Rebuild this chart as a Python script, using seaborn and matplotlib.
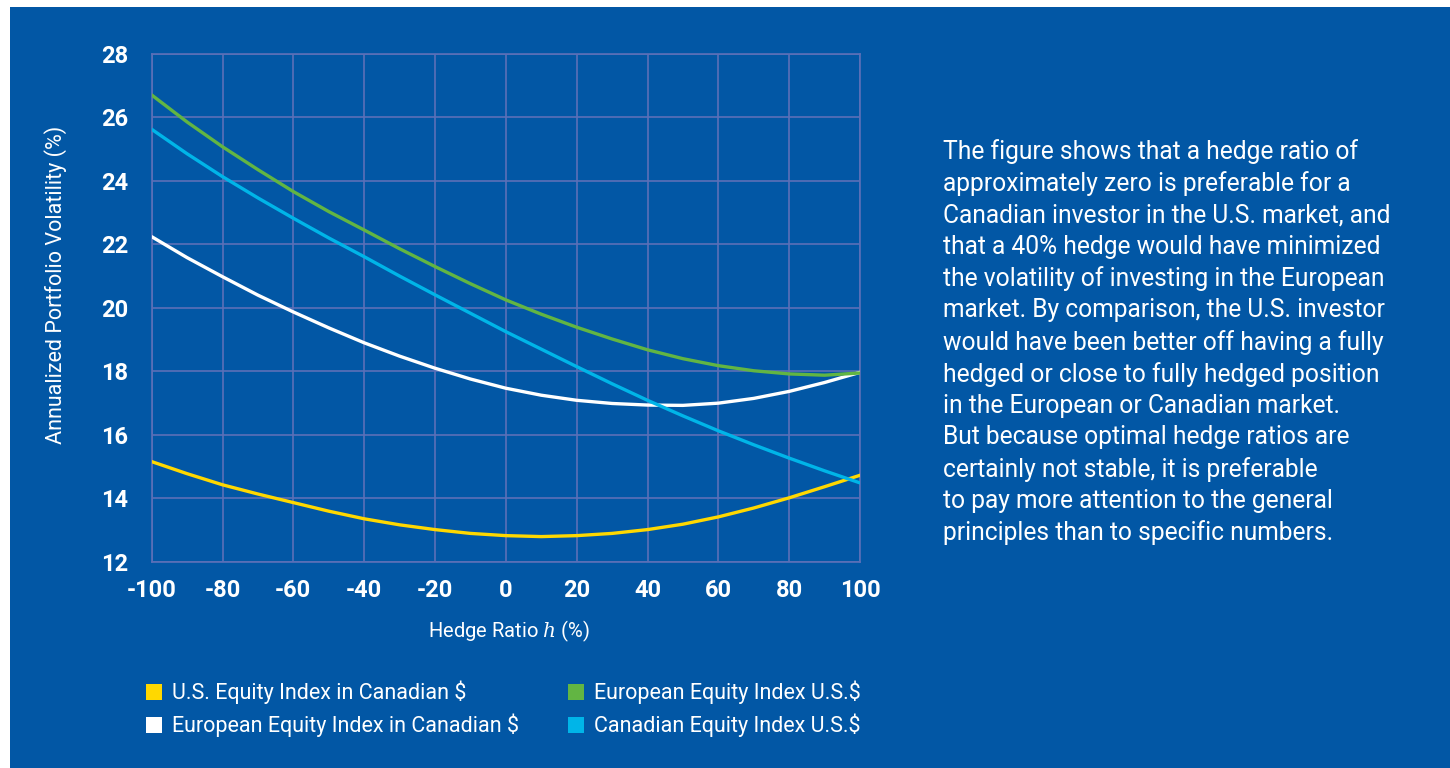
import numpy as np
import pandas as pd
import seaborn as sns
import matplotlib.pyplot as plt
from matplotlib.patches import Rectangle

# Hedge ratio h (%) and annualized portfolio volatility (%)
hedge_ratio = [-100, -90, -80, -70, -60, -50, -40, -30, -20, -10, 0,
               10, 20, 30, 40, 50, 60, 70, 80, 90, 100]
us_in_cad = [15.16, 14.78, 14.43, 14.14, 13.87, 13.60, 13.36, 13.17, 13.02, 12.90, 12.83,
             12.80, 12.83, 12.90, 13.02, 13.19, 13.42, 13.70, 14.02, 14.37, 14.73]
eur_in_cad = [22.24, 21.58, 20.98, 20.40, 19.87, 19.37, 18.90, 18.48, 18.10, 17.76, 17.47,
              17.25, 17.09, 16.99, 16.94, 16.93, 17.00, 17.15, 17.37, 17.65, 17.97]
eur_in_usd = [26.70, 25.85, 25.07, 24.35, 23.66, 23.03, 22.45, 21.86, 21.30, 20.76, 20.25,
              19.80, 19.39, 19.02, 18.68, 18.40, 18.18, 18.02, 17.92, 17.88, 17.95]
cad_in_usd = [25.62, 24.85, 24.13, 23.46, 22.82, 22.20, 21.61, 21.00, 20.41, 19.83, 19.25,
              18.70, 18.15, 17.61, 17.09, 16.60, 16.13, 15.69, 15.27, 14.87, 14.49]

series_names = ["U.S. Equity Index in Canadian $",
                "European Equity Index in Canadian $",
                "European Equity Index U.S.$",
                "Canadian Equity Index U.S.$"]
series_colors = ["#FFD800", "#FFFFFF", "#62B543", "#00B5E8"]

x_ticks = [-100, -80, -60, -40, -20, 0, 20, 40, 60, 80, 100]
y_ticks = [12, 14, 16, 18, 20, 22, 24, 26, 28]

side_text = ("The figure shows that a hedge ratio of\n"
             "approximately zero is preferable for a\n"
             "Canadian investor in the U.S. market, and\n"
             "that a 40% hedge would have minimized\n"
             "the volatility of investing in the European\n"
             "market. By comparison, the U.S. investor\n"
             "would have been better off having a fully\n"
             "hedged or close to fully hedged position\n"
             "in the European or Canadian market.\n"
             "But because optimal hedge ratios are\n"
             "certainly not stable, it is preferable\n"
             "to pay more attention to the general\n"
             "principles than to specific numbers.")

bg = "#0257A5"
grid_col = "#5B70B8"

sns.set_theme(style="white")
plt.rcParams['font.family'] = ['Roboto', 'DejaVu Sans']
plt.rcParams['mathtext.fontset'] = 'dejavuserif'
plt.rcParams['axes.unicode_minus'] = False

df = pd.DataFrame({
    "h": hedge_ratio * 4,
    "vol": us_in_cad + eur_in_cad + eur_in_usd + cad_in_usd,
    "series": np.repeat(series_names, len(hedge_ratio)),
})

W, H = 1450, 768
fig = plt.figure(figsize=(14.5, 7.68), dpi=100, facecolor="white")
fig.patches.append(Rectangle((10 / W, 0), 1 - 10 / W, 1 - 7 / H,
                             transform=fig.transFigure, facecolor=bg,
                             edgecolor="none", zorder=-5))

ax = fig.add_axes([151.7 / W, 1 - 562 / H, (860 - 151.7) / W, (562 - 53.7) / H])
ax.set_facecolor(bg)

sns.lineplot(data=df, x="h", y="vol", hue="series", hue_order=series_names,
             palette=series_colors, linewidth=2.4, ax=ax, legend=False,
             zorder=3)

ax.set_xlim(-100, 100)
ax.set_ylim(12, 28)
ax.set_xticks(x_ticks)
ax.set_yticks(y_ticks)
ax.grid(True, color=grid_col, linewidth=1.2)
for s in ax.spines.values():
    s.set_color(grid_col)
    s.set_linewidth(1.2)
ax.tick_params(length=0, colors="white", labelsize=17)
ax.tick_params(axis="y", pad=17)
ax.tick_params(axis="x", pad=12)
for lab in ax.get_xticklabels() + ax.get_yticklabels():
    lab.set_fontweight("bold")
ax.set_xlabel("")
ax.set_ylabel("")

fig.text(509 / W, 1 - 631 / H, "Hedge Ratio $h$ (%)", color="white",
         fontsize=14.5, ha="center", va="center")
fig.text(56 / W, 1 - 285 / H, "Annualized Portfolio Volatility (%)",
         color="white", fontsize=15.5, rotation=90, ha="center", va="center")

# legend drawn as squares + text in two columns
leg_pos = [(146, 692), (146, 725), (568, 692), (568, 725)]
for (lx, ly), name, col in zip(leg_pos, series_names, series_colors):
    fig.patches.append(Rectangle((lx / W, 1 - (ly + 8) / H), 16 / W, 16 / H,
                                 transform=fig.transFigure, facecolor=col,
                                 edgecolor="none", zorder=2))
    fig.text((lx + 26) / W, 1 - ly / H, name, color="white", fontsize=15.5,
             ha="left", va="center")

fig.text(943 / W, 1 - 139 / H, side_text, color="white", fontsize=17.7,
         ha="left", va="top", linespacing=1.375)

fig.savefig("out.png", dpi=100, facecolor=fig.get_facecolor())
